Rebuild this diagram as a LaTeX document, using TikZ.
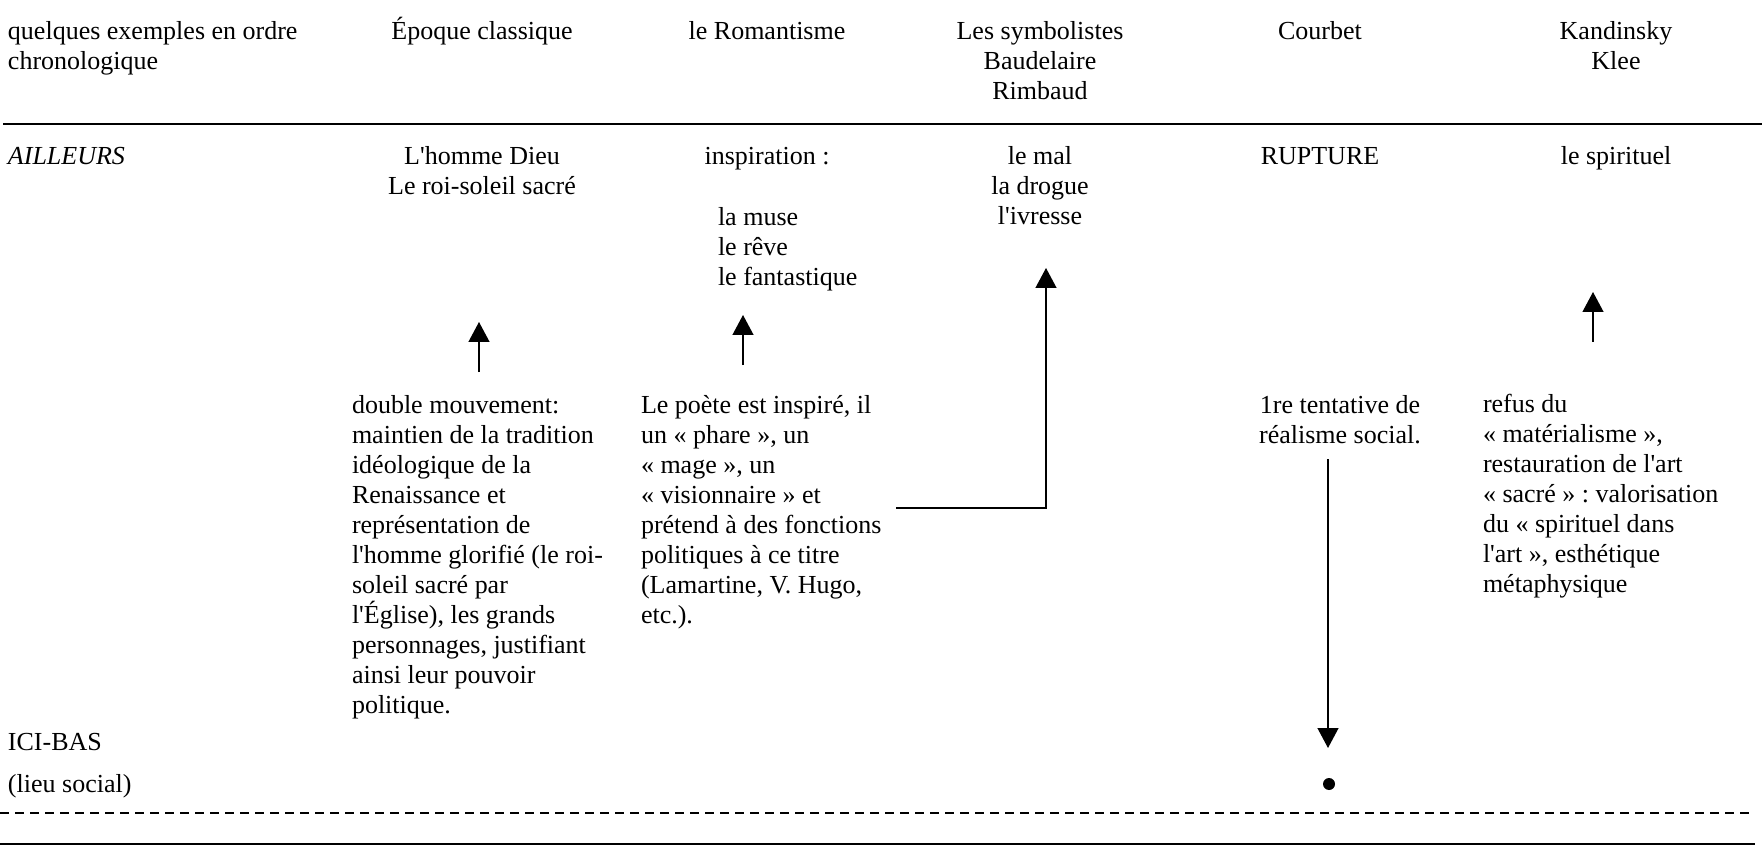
\documentclass[tikz,border=0pt]{standalone}
\usepackage{fontspec}
\newfontfamily\tnr{Liberation Serif}
\usetikzlibrary{arrows.meta}
\frenchspacing
\newcommand\colL[1]{\vtop{\baselineskip=15pt\lineskiplimit=-20pt\halign{##\hfil\cr#1\crcr}}}
\newcommand\colC[1]{\vtop{\baselineskip=15pt\lineskiplimit=-20pt\halign{\hfil##\hfil\cr#1\crcr}}}
\begin{document}
\begin{tikzpicture}[x=0.5pt,y=-0.5pt,
  every node/.style={inner sep=0pt, outer sep=0pt, font=\tnr\fontsize{13}{15}\selectfont\frenchspacing},
  txtL/.style={anchor=base west},
  txtC/.style={anchor=base},
  conn/.style={line width=0.65pt, -{Triangle[length=10pt,width=10.5pt]}},
  rule/.style={line width=1.25pt},
  dotrule/.style={line width=0.8pt, dash pattern=on 4.5pt off 3pt}]
\useasboundingbox (0,0) rectangle (1762,845);

% header row
\node[txtL] (h0) at (8,40) {\colL{quelques exemples en ordre\cr chronologique}};
\node[txtC] (h1) at (482,40) {Époque classique};
\node[txtC] (h2) at (767,40) {le Romantisme};
\node[txtC] (h3) at (1040,40) {\colC{Les symbolistes\cr Baudelaire\cr Rimbaud}};
\node[txtC] (h4) at (1320,40) {Courbet};
\node[txtC] (h5) at (1616,40) {\colC{Kandinsky\cr Klee}};

\draw[rule] (3,124) -- (1762,124);

% AILLEURS row
\node[txtL] (ail) at (8,165) {\itshape AILLEURS};
\node[txtC] (a1) at (482,165) {\colC{L'homme Dieu\cr Le roi-soleil sacré}};
\node[txtC] (a2) at (767,165) {inspiration :};
\node[txtL] (a2b) at (718,226) {\colL{la muse\cr le rêve\cr le fantastique}};
\node[txtC] (a3) at (1040,165) {\colC{le mal\cr la drogue\cr l'ivresse}};
\node[txtC] (a4) at (1320,165) {RUPTURE};
\node[txtC] (a5) at (1616,165) {le spirituel};

% explanation blocks
\node[txtL] (b1) at (352,413) {\colL{double mouvement:\cr
maintien de la tradition\cr
idéologique de la\cr
Renaissance et\cr
représentation de\cr
l'homme glorifié (le roi-\cr
soleil sacré par\cr
l'Église), les grands\cr
personnages, justifiant\cr
ainsi leur pouvoir\cr
politique.}};
\node[txtL] (b2) at (641,413) {\colL{Le poète est inspiré, il\cr
un « phare », un\cr
« mage », un\cr
« visionnaire » et\cr
prétend à des fonctions\cr
politiques à ce titre\cr
(Lamartine, V. Hugo,\cr
etc.).}};
\node[txtC] (b4) at (1340,413) {\colC{1re tentative de\cr réalisme social.}};
\node[txtL] (b5) at (1483,412) {\colL{refus du\cr
« matérialisme »,\cr
restauration de l'art\cr
« sacré » : valorisation\cr
du « spirituel dans\cr
l'art », esthétique\cr
métaphysique}};

% lower labels
\node[txtL] (ici) at (8,750) {ICI-BAS};
\node[txtL] (lieu) at (8,792) {(lieu social)};
\node[circle, fill=black, minimum size=6pt] (dot) at (1329,784) {};

% connector end points
\coordinate (c1s) at (479,372);
\coordinate (c1e) at (479,322);
\coordinate (c2s) at (743,365);
\coordinate (c2e) at (743,315);
\coordinate (c3s) at (896,508);
\coordinate (c3k) at (1046,508);
\coordinate (c3e) at (1046,268);
\coordinate (c5s) at (1593,342);
\coordinate (c5e) at (1593,292);
\coordinate (c4s) at (1328,459);
\coordinate (c4e) at (1328,748);

\draw[conn] (c1s) -- (c1e);
\draw[conn] (c2s) -- (c2e);
\draw[conn] (c3s) -- (c3k) -- (c3e);
\draw[conn] (c5s) -- (c5e);
\draw[conn] (c4s) -- (c4e);

% bottom rules
\draw[dotrule] (0,813) -- (1755,813);
\draw[line width=1pt] (0,844) -- (1755,844);
\end{tikzpicture}
\end{document}
